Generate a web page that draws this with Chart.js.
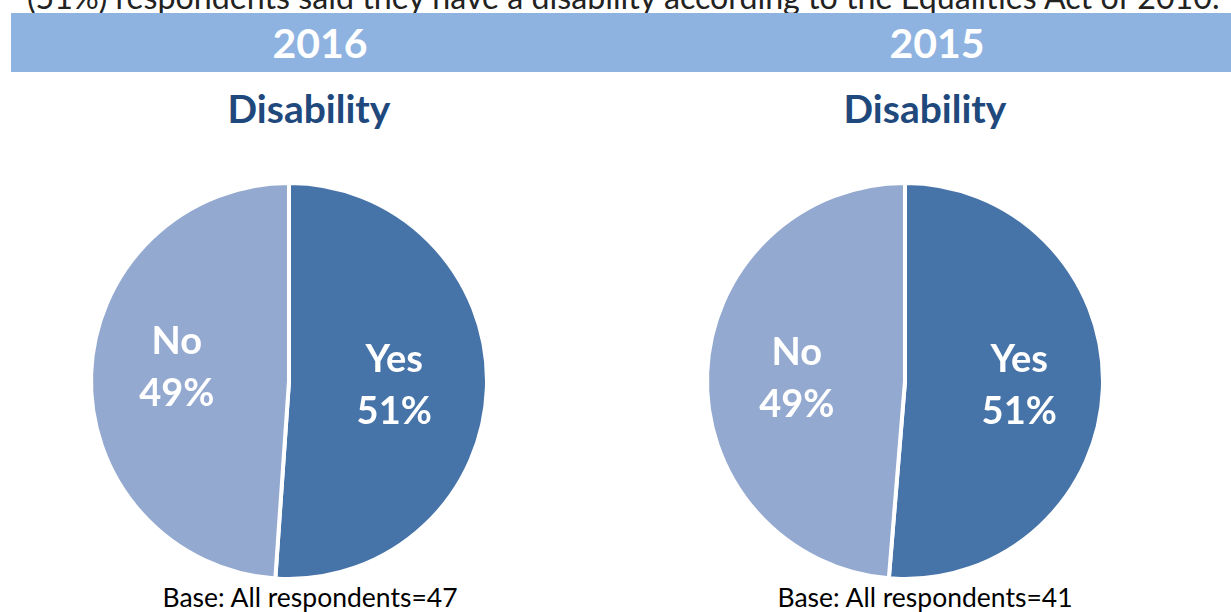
<!DOCTYPE html>
<html>
<head>
<meta charset="utf-8">
<script src="https://cdn.jsdelivr.net/npm/chart.js@4.4.0/dist/chart.umd.min.js"></script>
<style>
  body { margin: 0; width: 1231px; height: 612px; overflow: hidden; background: #fff; font-family: Lato, 'Open Sans', sans-serif; position: relative; }
  .abs { position: absolute; line-height: normal; }
  #intro { left: 27px; top: -23px; font-size: 32.2px; color: #222; white-space: nowrap; }
  #band { left: 11px; top: 13px; width: 1220px; height: 59px; background: #8EB3E1; }
  .year { top: 18px; width: 300px; text-align: center; color: #fff; font-weight: bold; font-size: 41px; }
  .title { top: 85px; width: 300px; text-align: center; color: #1F497D; font-weight: bold; font-size: 39px; }
  .base { top: 581px; width: 400px; text-align: center; color: #000; font-size: 26.5px; }
  canvas { position: absolute; }
</style>
</head>
<body>
<div class="abs" id="intro">(51%) respondents said they have a disability according to the Equalities Act of 2010.</div>
<div class="abs" id="band"></div>
<div class="abs year" style="left:170px">2016</div>
<div class="abs year" style="left:787px">2015</div>
<div class="abs title" style="left:159px">Disability</div>
<div class="abs title" style="left:775px">Disability</div>
<div class="abs base" style="left:110px">Base: All respondents=47</div>
<div class="abs base" style="left:725px">Base: All respondents=41</div>
<canvas id="pie2016" width="420" height="420" style="left:79px;top:171px"></canvas>
<canvas id="pie2015" width="420" height="420" style="left:695px;top:171px"></canvas>
<script>
const categories = ['Yes', 'No']
const years = ['2016', '2015']
const values2016 = [51.1, 48.9]
const values2015 = [51.3, 48.7]
const labels2016 = ['51%', '49%']
const labels2015 = ['51%', '49%']
const sliceColors = ['#4673A8', '#94A9D0']

const sliceLabels = {
    id: 'sliceLabels',
    afterDatasetsDraw (chart, args, opts) {
        const ctx = chart.ctx
        const meta = chart.getDatasetMeta(0)
        ctx.save()
        ctx.fillStyle = '#fff'
        ctx.font = 'bold 38px Lato, sans-serif'
        ctx.textAlign = 'center'
        ctx.textBaseline = 'middle'
        meta.data.forEach((arc, i) => {
            const p = arc.getProps(['x', 'y', 'startAngle', 'endAngle', 'outerRadius'], true)
            const mid = (p.startAngle + p.endAngle) / 2
            const r = 108.3
            const n = opts.nudge[i] || [0, 0]
            const x = p.x + Math.cos(mid) * r + n[0]
            const y = p.y + Math.sin(mid) * r + n[1]
            ctx.fillText(categories[i], x, y - 26)
            ctx.fillText(opts.texts[i], x, y + 26)
        })
        ctx.restore()
    }
}

function makePie (id, values, texts, nudge) {
    new Chart(document.getElementById(id), {
        type: 'pie',
        data: {
            labels: categories,
            datasets: [{
                data: values,
                backgroundColor: sliceColors,
                borderColor: '#fff',
                borderWidth: 4,
            }],
        },
        options: {
            responsive: false,
            animation: false,
            radius: 198,
            plugins: {
                legend: { display: false },
                tooltip: { enabled: false },
                sliceLabels: { texts: texts, nudge: nudge },
            },
        },
        plugins: [sliceLabels],
    })
}

makePie('pie2016', values2016, labels2016, [[-3, 1], [-4, -9.5]])
makePie('pie2015', values2015, labels2015, [[6, 0], [0, 2]])
</script>
</body>
</html>
